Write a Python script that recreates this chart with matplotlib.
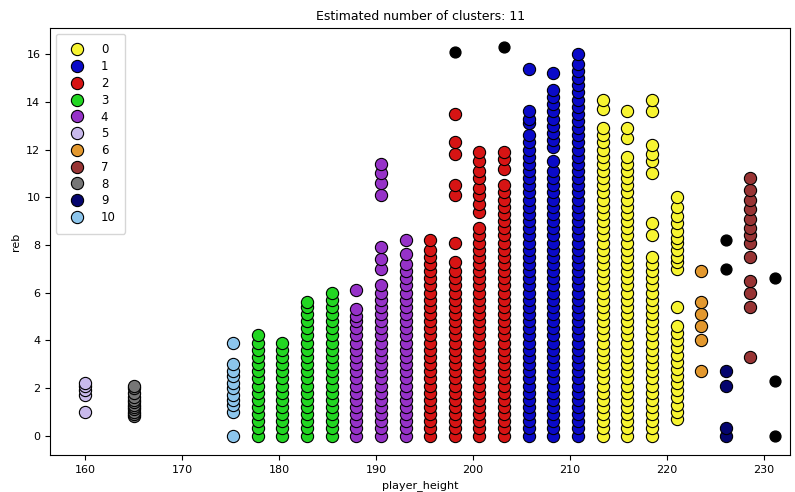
import matplotlib.pyplot as plt

# cluster labels and colours
labels = ['0', '1', '2', '3', '4', '5', '6', '7', '8', '9', '10']
colors = ['#f7f431', '#0a0ac8', '#d61414', '#22d622', '#9632c8',
          '#c8b9eb', '#e3982e', '#983434', '#767676', '#05056e', '#8cc5ec']

# cluster 0 (yellow)
h0 = [213.36, 215.9, 218.44, 220.98]
reb0 = [
    [0.0, 0.3, 0.6, 0.9, 1.2, 1.5, 1.8, 2.1, 2.4, 2.7, 3.0, 3.3, 3.6, 3.9, 4.2, 4.5, 4.8, 5.1, 5.4, 5.7,
     6.0, 6.3, 6.6, 6.9, 7.2, 7.5, 7.8, 8.1, 8.4, 8.7, 9.0, 9.3, 9.6, 9.9, 10.2, 10.5, 10.8, 11.1, 11.4,
     11.7, 12.0, 12.3, 12.6, 12.9, 13.7, 14.1],
    [0.0, 0.3, 0.6, 0.9, 1.2, 1.5, 1.8, 2.1, 2.4, 2.7, 3.0, 3.3, 3.6, 3.9, 4.2, 4.5, 4.8, 5.1, 5.4, 5.7,
     6.0, 6.3, 6.6, 6.9, 7.2, 7.5, 7.8, 8.1, 8.4, 8.7, 9.0, 9.3, 9.6, 9.9, 10.2, 10.5, 10.8, 11.1, 11.4,
     11.7, 12.5, 12.9, 13.6],
    [0.0, 0.3, 0.6, 0.9, 1.2, 1.5, 1.8, 2.1, 2.4, 2.7, 3.0, 3.3, 3.6, 3.9, 4.2, 4.5, 4.8, 5.1, 5.4, 5.7,
     6.0, 6.3, 6.6, 6.9, 7.2, 7.5, 8.4, 8.9, 11.0, 11.5, 11.8, 12.2, 13.6, 14.1],
    [0.7, 1.0, 1.3, 1.6, 1.9, 2.2, 2.5, 2.8, 3.1, 3.4, 3.7, 4.0, 4.3, 4.6, 5.4, 7.0, 7.3, 7.5, 7.8, 8.1,
     8.3, 8.6, 8.9, 9.2, 9.6, 10.0],
]

# cluster 1 (blue)
h1 = [205.74, 208.28, 210.82]
reb1 = [
    [0.0, 0.3, 0.6, 0.9, 1.2, 1.5, 1.8, 2.1, 2.4, 2.7, 3.0, 3.3, 3.6, 3.9, 4.2, 4.5, 4.8, 5.1, 5.4, 5.7,
     6.0, 6.3, 6.6, 6.9, 7.2, 7.5, 7.8, 8.1, 8.4, 8.7, 9.0, 9.3, 9.6, 9.9, 10.2, 10.5, 10.8, 11.1, 11.4,
     11.7, 12.0, 12.3, 12.6, 13.1, 13.3, 13.6, 15.4],
    [0.0, 0.3, 0.6, 0.9, 1.2, 1.5, 1.8, 2.1, 2.4, 2.7, 3.0, 3.3, 3.6, 3.9, 4.2, 4.5, 4.8, 5.1, 5.4, 5.7,
     6.0, 6.3, 6.6, 6.9, 7.2, 7.5, 7.8, 8.1, 8.4, 8.7, 9.0, 9.3, 9.6, 9.9, 10.2, 10.5, 10.8, 11.1, 11.5,
     12.1, 12.4, 12.7, 13.0, 13.3, 13.6, 13.9, 14.2, 14.5, 15.2],
    [0.0, 0.3, 0.6, 0.9, 1.2, 1.5, 1.8, 2.1, 2.4, 2.7, 3.0, 3.3, 3.6, 3.9, 4.2, 4.5, 4.8, 5.1, 5.4, 5.7,
     6.0, 6.3, 6.6, 6.9, 7.2, 7.5, 7.8, 8.1, 8.4, 8.7, 9.0, 9.3, 9.6, 9.9, 10.2, 10.5, 10.8, 11.1, 11.4,
     11.7, 12.0, 12.3, 12.6, 12.9, 13.2, 13.5, 13.8, 14.1, 14.4, 14.7, 15.0, 15.3, 15.6, 16.0],
]

# cluster 2 (red)
h2 = [195.58, 198.12, 200.66, 203.2]
reb2 = [
    [0.0, 0.3, 0.6, 0.9, 1.2, 1.5, 1.8, 2.1, 2.4, 2.7, 3.0, 3.3, 3.6, 3.9, 4.2, 4.5, 4.8, 5.1, 5.4, 5.7,
     6.0, 6.3, 6.6, 6.9, 7.2, 7.5, 7.8, 8.2],
    [0.0, 0.3, 0.6, 0.9, 1.2, 1.5, 1.8, 2.1, 2.4, 2.7, 3.0, 3.3, 3.6, 3.9, 4.2, 4.5, 4.8, 5.1, 5.4, 5.7,
     6.0, 6.3, 6.6, 6.9, 7.3, 8.1, 10.1, 10.5, 11.8, 12.3, 13.5],
    [0.0, 0.3, 0.6, 0.9, 1.2, 1.5, 1.8, 2.1, 2.4, 2.7, 3.0, 3.3, 3.6, 3.9, 4.2, 4.5, 4.8, 5.1, 5.4, 5.7,
     6.0, 6.3, 6.6, 6.9, 7.2, 7.5, 7.8, 8.1, 8.4, 8.7, 9.4, 9.7, 10.1, 10.4, 10.8, 11.1, 11.5, 11.9],
    [0.0, 0.3, 0.6, 0.9, 1.2, 1.5, 1.8, 2.1, 2.4, 2.7, 3.0, 3.3, 3.6, 3.9, 4.2, 4.5, 4.8, 5.1, 5.4, 5.7,
     6.0, 6.3, 6.6, 6.9, 7.2, 7.5, 7.8, 8.1, 8.4, 8.7, 9.0, 9.3, 9.6, 9.9, 10.2, 10.5, 11.2, 11.6, 11.9],
]

# cluster 3 (green)
h3 = [177.8, 180.34, 182.88, 185.42]
reb3 = [
    [0.0, 0.3, 0.6, 0.9, 1.2, 1.5, 1.8, 2.1, 2.4, 2.7, 3.0, 3.3, 3.6, 3.9, 4.2],
    [0.0, 0.3, 0.6, 0.9, 1.2, 1.5, 1.8, 2.1, 2.4, 2.7, 3.0, 3.3, 3.6, 3.9],
    [0.0, 0.3, 0.6, 0.9, 1.2, 1.5, 1.8, 2.1, 2.4, 2.7, 3.0, 3.3, 3.6, 3.9, 4.2, 4.5, 4.8, 5.1, 5.4, 5.6],
    [0.0, 0.3, 0.6, 0.9, 1.2, 1.5, 1.8, 2.1, 2.4, 2.7, 3.0, 3.3, 3.6, 3.9, 4.2, 4.5, 4.8, 5.1, 5.4, 5.7,
     6.0],
]

# cluster 4 (purple)
h4 = [187.96, 190.5, 193.04]
reb4 = [
    [0.0, 0.3, 0.6, 0.9, 1.2, 1.5, 1.8, 2.1, 2.4, 2.7, 3.0, 3.3, 3.6, 3.9, 4.2, 4.5, 4.8, 5.0, 5.3, 6.1],
    [0.0, 0.3, 0.6, 0.9, 1.2, 1.5, 1.8, 2.1, 2.4, 2.7, 3.0, 3.3, 3.6, 3.9, 4.2, 4.5, 4.8, 5.1, 5.4, 5.7,
     6.0, 6.3, 7.0, 7.4, 7.9, 10.1, 10.6, 11.0, 11.4],
    [0.0, 0.3, 0.6, 0.9, 1.2, 1.5, 1.8, 2.1, 2.4, 2.7, 3.0, 3.3, 3.6, 3.9, 4.2, 4.5, 4.8, 5.1, 5.4, 5.7,
     6.0, 6.3, 6.6, 6.9, 7.2, 7.6, 8.2],
]

# small clusters
h5 = [160.02]
reb5 = [[1.0, 1.7, 1.9, 2.1, 2.2]]
h6 = [223.52]
reb6 = [[2.7, 4.0, 4.6, 5.1, 5.6, 6.9]]
h7 = [228.6]
reb7 = [[3.3, 5.4, 6.0, 6.5, 7.5, 8.1, 8.4, 8.7, 9.1, 9.5, 9.9, 10.3, 10.8]]
h8 = [165.1]
reb8 = [[0.8, 0.9, 1.0, 1.1, 1.2, 1.3, 1.4, 1.5, 1.6, 1.8, 2.0, 2.1]]
h9 = [226.06]
reb9 = [[0.0, 0.3, 2.1, 2.7]]
h10 = [175.26]
reb10 = [[0.0, 1.0, 1.3, 1.5, 1.7, 2.0, 2.2, 2.5, 2.7, 3.0, 3.9]]

# noise points (black)
noise_h = [198.12, 203.2, 226.06, 226.06, 231.14, 231.14, 231.14]
noise_reb = [16.1, 16.3, 7.0, 8.2, 0.0, 2.3, 6.6]

clusters = [(h0, reb0), (h1, reb1), (h2, reb2), (h3, reb3), (h4, reb4), (h5, reb5),
            (h6, reb6), (h7, reb7), (h8, reb8), (h9, reb9), (h10, reb10)]

fig = plt.figure(figsize=(7.95, 4.92), dpi=100)
ax = fig.add_subplot(111)
fig.subplots_adjust(left=0.063, right=0.994, bottom=0.075, top=0.943)

for (hs, rebs), lab, col in zip(clusters, labels, colors):
    xs, ys = [], []
    for h, r in zip(hs, rebs):
        xs += [h] * len(r)
        ys += r
    ax.plot(xs, ys, 'o', markerfacecolor=col, markeredgecolor='k',
            markeredgewidth=0.8, markersize=8.8, label=lab)

ax.plot(noise_h, noise_reb, 'o', markerfacecolor='k', markeredgecolor='k',
        markersize=7.8, label='_nolegend_')

ax.set_xlim(156.4, 232.7)
ax.set_ylim(-0.82, 17.1)
ax.set_xticks([160, 170, 180, 190, 200, 210, 220, 230])
ax.set_yticks([0, 2, 4, 6, 8, 10, 12, 14, 16])
ax.tick_params(labelsize=8)
ax.set_title('Estimated number of clusters: 11', fontsize=9)
ax.set_xlabel('player_height', fontsize=8)
ax.set_ylabel('reb', fontsize=8)
ax.legend(loc='upper left', fontsize=8.5, markerscale=1.0, labelspacing=0.32,
          borderpad=0.8, handletextpad=1.0)

plt.savefig('out.png', dpi=100)
